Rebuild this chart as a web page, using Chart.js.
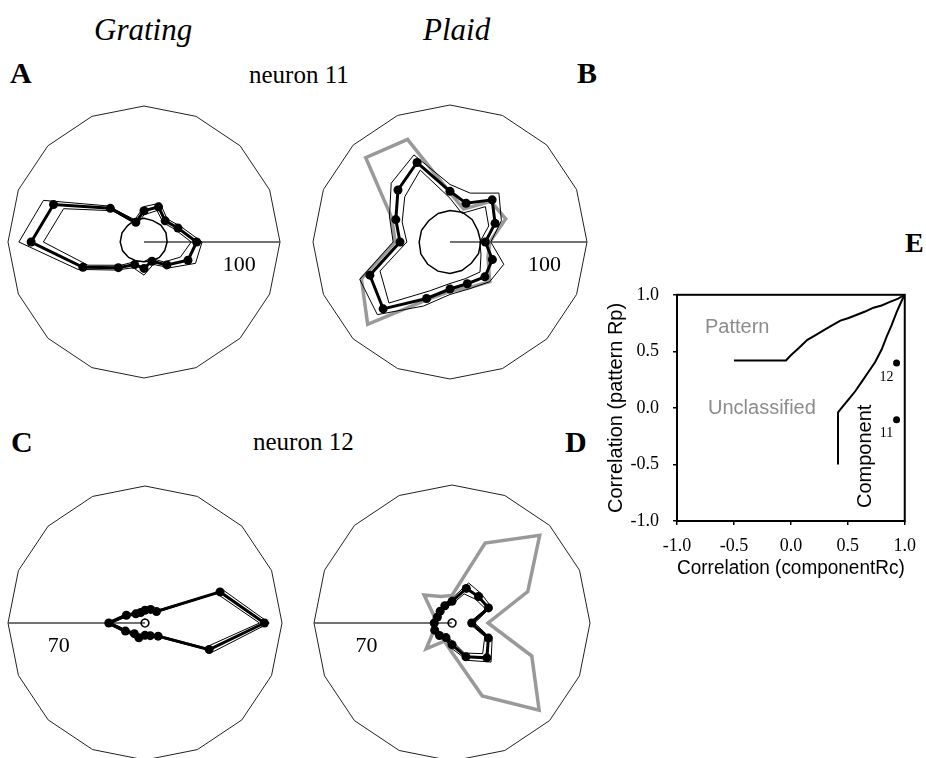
<!DOCTYPE html>
<html>
<head>
<meta charset="utf-8">
<script src="https://cdn.jsdelivr.net/npm/chart.js@4.4.0/dist/chart.umd.min.js"></script>
<style>
  html, body { margin: 0; padding: 0; background: #fff; overflow: hidden; }
  #page { position: relative; width: 926px; height: 758px; overflow: hidden; background: #fff; }
  canvas, .t { position: absolute; }
  .t { white-space: nowrap; line-height: 1; color: #000; font-family: "Liberation Serif", "Times New Roman", serif; }
  .lab { font-weight: bold; font-size: 30px; }
  .hd { font-style: italic; font-size: 31px; }
  .nr { font-size: 25px; }
  .s { font-family: "Liberation Sans", Arial, sans-serif; font-size: 20px; }
</style>
</head>
<body>
<div id="page">
  <div class="t hd" style="left:94px;top:14px">Grating</div>
  <div class="t hd" style="left:423px;top:14px">Plaid</div>
  <div class="t lab" style="left:10px;top:58px">A</div>
  <div class="t nr" style="left:249px;top:62px">neuron 11</div>
  <div class="t lab" style="left:577px;top:58px">B</div>
  <div class="t lab" style="left:11px;top:427px">C</div>
  <div class="t nr" style="left:253px;top:429px">neuron 12</div>
  <div class="t lab" style="left:565px;top:427px">D</div>
  <div class="t lab" style="left:905px;top:229px;font-size:28px">E</div>

  <canvas id="cA" width="276" height="276" style="left:6px;top:104px"></canvas>
  <canvas id="cB" width="278" height="278" style="left:311px;top:103px"></canvas>
  <canvas id="cC" width="278" height="278" style="left:6px;top:484px"></canvas>
  <canvas id="cD" width="280" height="280" style="left:312px;top:483px"></canvas>
  <canvas id="cE" width="326" height="314" style="left:600px;top:270px"></canvas>

  <div class="t s" style="left:705px;top:316px;color:#8c8c8c">Pattern</div>
  <div class="t s" style="left:708px;top:397px;color:#8c8c8c">Unclassified</div>
  <div class="t s" style="left:854px;top:508px;transform-origin:left top;transform:rotate(-90deg)">Component</div>
</div>

<script>
// directions of motion (deg, counter-clockwise from rightward)
const directions = [0, 22.5, 45, 67.5, 90, 112.5, 135, 157.5, 180, 202.5, 225, 247.5, 270, 292.5, 315, 337.5];

// neuron 11, gratings (spikes/s)
const gratingMean11 = [38.7, 27, 22, 28, 23, 15.7, 35, 72, 83, 48.6, 26.7, 18, 19.4, 15.3, 23.8, 35];
const gratingSe11   = [4, 2.5, 2, 3, 3, 2, 2.5, 8, 9, 4, 2.5, 2.5, 5, 2.5, 3, 6];
const gratingBase11 = [17, 17.5, 17.5, 17, 17.5, 17.5, 17, 17.5, 17.5, 17, 16, 15, 14.5, 15, 16, 16.5];

// neuron 11, plaids
const plaidMean11 = [25.8, 35.6, 43.5, 30.6, 37, 62.8, 53.7, 42.8, 36.5, 63.3, 69, 44.6, 34.3, 33, 36, 33.5];
const plaidSe11   = [4, 5, 7, 8, 5, 6, 7, 5, 5, 8, 6, 6, 4, 4, 5, 9];
const plaidBase11 = [22.5, 22, 23, 23.5, 23, 22.5, 22, 22.5, 22.5, 23, 23, 23, 23, 22.5, 22, 22.5];
const plaidPred11 = [29, 44, 42, 26, 36, 81, 87, 46, 40, 70, 85, 46, 36, 36, 41, 30];

// neuron 12, gratings
const gratingMean12 = [61, 41.5, 8.3, 7.5, 6.5, 5.8, 6.6, 10.3, 18.5, 10.8, 7.7, 8.2, 6.3, 7, 9.5, 35.5];
const gratingSe12   = [2.5, 2, 1, 1, 1, 1, 1, 1, 1.5, 1, 1, 1, 1, 1, 1, 2.5];
const gratingBase12 = [2, 2, 2, 2, 2, 2, 2, 2, 2, 2, 2, 2, 2, 2, 2, 2];

// neuron 12, plaids
const plaidMean12 = [10, 20, 19, 19, 11, 9.5, 8.5, 8, 9, 9.5, 9, 8, 11, 18.5, 25, 20];
const plaidSe12   = [1.5, 1.5, 2, 3, 1.5, 1, 1, 1, 1, 1, 1, 1, 2, 2, 3, 2];
const plaidBase12 = [2, 2.1, 2, 2, 2.1, 2, 2, 2, 2, 2, 2, 2, 2, 2.1, 2, 2];
const plaidPred12 = [18.3, 41.6, 62.9, 43.9, 14, 14.5, 20, 10, 9, 10, 18.5, 10, 15, 40, 62.5, 43.8];

// panel E: classification boundaries and the two example cells
const patternRc   = [-0.5, -0.043, 0.0, 0.072, 0.145, 0.217, 0.29, 0.362, 0.435, 0.507, 0.58, 0.652, 0.725, 0.797, 0.87, 0.942, 1.0];
const patternRp   = [0.42, 0.42, 0.465, 0.531, 0.602, 0.644, 0.687, 0.73, 0.772, 0.795, 0.824, 0.852, 0.886, 0.906, 0.937, 0.966, 1.0];
const componentRc = [0.414, 0.414, 0.449, 0.507, 0.565, 0.623, 0.681, 0.739, 0.797, 0.841, 0.884, 0.928, 0.971, 1.0];
const componentRp = [-0.5, -0.04, 0.004, 0.075, 0.147, 0.232, 0.317, 0.403, 0.516, 0.63, 0.73, 0.844, 0.943, 1.0];
const cellNames = ['12', '11'];
const cellRc = [0.928, 0.928];
const cellRp = [0.397, -0.104];
const eTicks = [-1, -0.5, 0, 0.5, 1];

Chart.defaults.font.family = '"Liberation Serif", "Times New Roman", serif';
Chart.defaults.color = '#000';

// radar goes clockwise from the right, our data go counter-clockwise
function toChartOrder(arr) {
  return directions.map((_, i) => arr[(16 - i) % 16]);
}

const maxLabel = {
  id: 'maxLabel',
  afterDraw(chart, args, opts) {
    const s = chart.scales.r;
    const p = s.getPointPosition(opts.index, s.drawingArea * opts.frac);
    const ctx = chart.ctx;
    ctx.save();
    ctx.font = '22px "Liberation Serif"';
    ctx.fillStyle = '#000';
    ctx.textAlign = 'center';
    ctx.textBaseline = 'middle';
    ctx.fillText(String(s.max), p.x, p.y + 23);
    ctx.restore();
  }
};

const panels = [
  { id: 'cA', max: 100, lineDir: 0, frac: 0.7, mean: gratingMean11, se: gratingSe11, base: gratingBase11, pred: null },
  { id: 'cB', max: 100, lineDir: 0, frac: 0.69, mean: plaidMean11, se: plaidSe11, base: plaidBase11, pred: plaidPred11 },
  { id: 'cC', max: 70, lineDir: 180, frac: 0.63, mean: gratingMean12, se: gratingSe12, base: gratingBase12, pred: null },
  { id: 'cD', max: 70, lineDir: 180, frac: 0.62, mean: plaidMean12, se: plaidSe12, base: plaidBase12, pred: plaidPred12 }
];

panels.forEach(p => {
  const lineIdx = (16 - directions.indexOf(p.lineDir)) % 16;
  const upper = p.mean.map((v, i) => v + p.se[i]);
  const lower = p.mean.map((v, i) => v - p.se[i]);
  const thin = { borderColor: '#000', borderWidth: 1, pointRadius: 0, fill: false };
  const datasets = [
    { data: toChartOrder(p.mean), borderColor: '#000', borderWidth: 3, pointRadius: 4.5,
      pointBackgroundColor: '#000', pointBorderWidth: 0, fill: false },
    Object.assign({ data: toChartOrder(upper) }, thin),
    Object.assign({ data: toChartOrder(lower) }, thin),
    { data: toChartOrder(p.base), borderColor: '#000', borderWidth: 1.5, pointRadius: 0, fill: false }
  ];
  if (p.pred) {
    datasets.push({ data: toChartOrder(p.pred), borderColor: '#999', borderWidth: 3.5, pointRadius: 0, fill: false });
  }
  new Chart(document.getElementById(p.id), {
    type: 'radar',
    data: { labels: toChartOrder(directions), datasets: datasets },
    options: {
      responsive: false,
      animation: false,
      layout: { padding: 2 },
      elements: { line: { tension: 0 } },
      plugins: { legend: { display: false }, tooltip: { enabled: false }, maxLabel: { index: lineIdx, frac: p.frac } },
      scales: {
        r: {
          min: 0,
          max: p.max,
          startAngle: 90,
          ticks: { display: false, stepSize: p.max },
          pointLabels: { display: false },
          grid: { color: '#222', lineWidth: 1 },
          angleLines: { color: '#444', lineWidth: c => (c.index === lineIdx ? 1.5 : 0) }
        }
      }
    },
    plugins: [maxLabel]
  });
});

const frame = {
  id: 'frame',
  afterDraw(chart) {
    const a = chart.chartArea;
    const ctx = chart.ctx;
    ctx.save();
    ctx.strokeStyle = '#000';
    ctx.lineWidth = 2;
    ctx.strokeRect(a.left, a.top, a.right - a.left, a.bottom - a.top);
    ctx.restore();
  }
};

const cellLabels = {
  id: 'cellLabels',
  afterDraw(chart) {
    const meta = chart.getDatasetMeta(0);
    const ctx = chart.ctx;
    ctx.save();
    ctx.font = '14px "Liberation Serif"';
    ctx.fillStyle = '#000';
    ctx.textAlign = 'center';
    ctx.textBaseline = 'middle';
    meta.data.forEach((pt, i) => ctx.fillText(cellNames[i], pt.x - 10, pt.y + 14));
    ctx.restore();
  }
};

const tickFont = { family: '"Liberation Serif", "Times New Roman", serif', size: 18 };
const titleFont = { family: '"Liberation Sans", Arial, sans-serif', size: 20 };

new Chart(document.getElementById('cE'), {
  type: 'scatter',
  data: {
    datasets: [
      { data: cellRc.map((x, i) => ({ x: x, y: cellRp[i] })), pointRadius: 3.5,
        pointBackgroundColor: '#000', pointBorderWidth: 0, showLine: false },
      { data: patternRc.map((x, i) => ({ x: x, y: patternRp[i] })), showLine: true,
        borderColor: '#000', borderWidth: 2, pointRadius: 0 },
      { data: componentRc.map((x, i) => ({ x: x, y: componentRp[i] })), showLine: true,
        borderColor: '#000', borderWidth: 2, pointRadius: 0 }
    ]
  },
  options: {
    responsive: false,
    animation: false,
    layout: { padding: { top: 17, right: 19, left: 0, bottom: 0 } },
    plugins: { legend: { display: false }, tooltip: { enabled: false } },
    scales: {
      x: {
        type: 'linear', min: -1, max: 1,
        afterBuildTicks: s => { s.ticks = eTicks.map(v => ({ value: v })); },
        ticks: { callback: v => Number(v).toFixed(1), font: tickFont, color: '#000', padding: 10, maxRotation: 0, autoSkip: false },
        grid: { drawOnChartArea: false, tickLength: 4, color: '#000', lineWidth: 1.5 },
        border: { color: '#000', width: 2 },
        title: { display: true, text: 'Correlation (componentRc)', font: titleFont, color: '#000', padding: { top: 4, bottom: 4 } },
        afterFit: s => { s.height = 63; }
      },
      y: {
        type: 'linear', min: -1, max: 1,
        afterBuildTicks: s => { s.ticks = eTicks.map(v => ({ value: v })); },
        ticks: { callback: v => Number(v).toFixed(1), font: tickFont, color: '#000', padding: 14, autoSkip: false },
        grid: { drawOnChartArea: false, tickLength: 4, color: '#000', lineWidth: 1.5 },
        border: { color: '#000', width: 2 },
        title: { display: true, text: 'Correlation (pattern Rp)', font: titleFont, color: '#000', padding: { top: 4, bottom: 4 } },
        afterFit: s => { s.width = 77; }
      }
    }
  },
  plugins: [frame, cellLabels]
});
</script>
</body>
</html>
